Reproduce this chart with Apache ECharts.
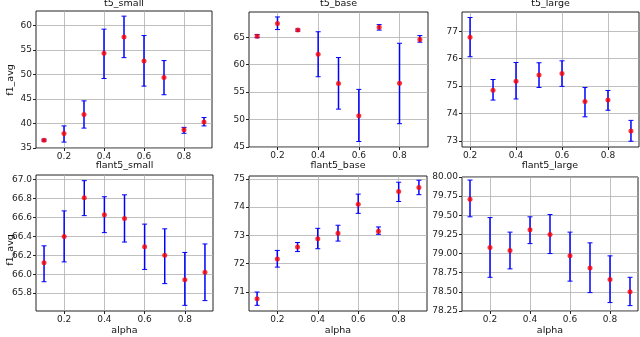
<!DOCTYPE html>
<html>
<head>
<meta charset="utf-8">
<script src="https://cdn.jsdelivr.net/npm/echarts@6/dist/echarts.min.js"></script>
<style>html,body{margin:0;padding:0;background:#fff}#c{width:640px;height:337px}</style>
</head>
<body>
<div id="c"></div>
<script>
// ---- data ----
const alphas = [0.1, 0.2, 0.3, 0.4, 0.5, 0.6, 0.7, 0.8, 0.9];
const alphasLarge = [0.2, 0.3, 0.4, 0.5, 0.6, 0.7, 0.8, 0.9];

const t5SmallMean = [36.6, 37.95, 41.8, 54.3, 57.6, 52.7, 49.35, 38.7, 40.3];
const t5SmallLo   = [36.4, 36.2, 39.05, 49.15, 53.4, 47.6, 45.85, 38.0, 39.5];
const t5SmallHi   = [36.8, 39.5, 44.6, 59.2, 61.85, 57.9, 52.8, 39.2, 41.2];

const t5BaseMean = [65.2, 67.5, 66.3, 61.9, 56.55, 50.7, 66.8, 56.6, 64.6];
const t5BaseLo   = [64.9, 66.4, 66.1, 57.8, 51.9, 46.0, 66.3, 49.25, 64.1];
const t5BaseHi   = [65.5, 68.7, 66.5, 66.0, 61.3, 55.5, 67.3, 63.9, 65.3];

const t5LargeMean = [76.78, 74.85, 75.18, 75.4, 75.46, 74.44, 74.49, 73.36];
const t5LargeLo   = [76.07, 74.49, 74.53, 74.95, 74.99, 73.88, 74.12, 72.99];
const t5LargeHi   = [77.5, 75.24, 75.86, 75.85, 75.92, 74.95, 74.84, 73.75];

const flSmallMean = [66.12, 66.40, 66.81, 66.63, 66.59, 66.29, 66.20, 65.94, 66.02];
const flSmallLo   = [65.92, 66.13, 66.62, 66.44, 66.34, 66.05, 65.90, 65.67, 65.72];
const flSmallHi   = [66.30, 66.67, 66.99, 66.82, 66.84, 66.53, 66.48, 66.23, 66.32];

const flBaseMean = [70.76, 72.17, 72.59, 72.88, 73.08, 74.10, 73.15, 74.55, 74.69];
const flBaseLo   = [70.53, 71.88, 72.43, 72.53, 72.80, 73.78, 73.04, 74.20, 74.44];
const flBaseHi   = [71.00, 72.47, 72.75, 73.25, 73.36, 74.46, 73.30, 74.88, 74.95];

const flLargeMean = [79.71, 79.08, 79.04, 79.31, 79.25, 78.97, 78.81, 78.66, 78.50];
const flLargeLo   = [79.48, 78.69, 78.80, 79.13, 79.00, 78.64, 78.49, 78.36, 78.32];
const flLargeHi   = [79.96, 79.47, 79.28, 79.48, 79.51, 79.28, 79.14, 78.97, 78.69];

const xTicks = [0.2, 0.4, 0.6, 0.8];
const yTicksT5Small = [35, 40, 45, 50, 55, 60];
const yTicksT5Base = [45, 50, 55, 60, 65];
const yTicksT5Large = [73, 74, 75, 76, 77];
const yTicksFlSmall = [65.8, 66.0, 66.2, 66.4, 66.6, 66.8, 67.0];
const yTicksFlBase = [71, 72, 73, 74, 75];
const yTicksFlLarge = [78.25, 78.5, 78.75, 79.0, 79.25, 79.5, 79.75, 80.0];

const titles = ['t5_small', 't5_base', 't5_large', 'flant5_small', 'flant5_base', 'flant5_large'];

// ---- panels ----
const FONT = 'DejaVu Sans';
const panels = [
  {x: alphas, m: t5SmallMean, lo: t5SmallLo, hi: t5SmallHi, yt: yTicksT5Small, ymin: 35, ymax: 62.9, xmin: 0.06, xmax: 0.94, dec: 0,
   grid: {left: 36, top: 11, width: 176, height: 137}},
  {x: alphas, m: t5BaseMean, lo: t5BaseLo, hi: t5BaseHi, yt: yTicksT5Base, ymin: 45, ymax: 69.6, xmin: 0.06, xmax: 0.94, dec: 0,
   grid: {left: 249, top: 12, width: 179, height: 135}},
  {x: alphasLarge, m: t5LargeMean, lo: t5LargeLo, hi: t5LargeHi, yt: yTicksT5Large, ymin: 72.78, ymax: 77.7, xmin: 0.165, xmax: 0.935, dec: 0,
   grid: {left: 462, top: 12, width: 177, height: 135}},
  {x: alphas, m: flSmallMean, lo: flSmallLo, hi: flSmallHi, yt: yTicksFlSmall, ymin: 65.61, ymax: 67.05, xmin: 0.06, xmax: 0.94, dec: 1,
   grid: {left: 36, top: 175, width: 177, height: 136}},
  {x: alphas, m: flBaseMean, lo: flBaseLo, hi: flBaseHi, yt: yTicksFlBase, ymin: 70.33, ymax: 75.1, xmin: 0.06, xmax: 0.94, dec: 0,
   grid: {left: 249, top: 176, width: 178, height: 135}},
  {x: alphas, m: flLargeMean, lo: flLargeLo, hi: flLargeHi, yt: yTicksFlLarge, ymin: 78.25, ymax: 80.0, xmin: 0.06, xmax: 0.94, dec: 2,
   grid: {left: 462, top: 177, width: 176, height: 134}}
];

const grids = [], xAxes = [], yAxes = [], series = [], graphics = [];
const gridLine = {show: true, lineStyle: {color: '#b0b0b0', width: 0.8}};
const LABEL_FONT = '9.5px ' + FONT;

panels.forEach((p, i) => {
  grids.push(Object.assign({show: true, borderColor: '#222', borderWidth: 1, backgroundColor: '#fff'}, p.grid));
  xAxes.push({
    type: 'value', gridIndex: i, min: p.xmin, max: p.xmax,
    axisLine: {show: false},
    axisTick: {show: true, length: 3, lineStyle: {color: '#222'}, customValues: xTicks},
    axisLabel: {customValues: xTicks, margin: 4, fontSize: 9, color: '#222', fontFamily: FONT,
      formatter: v => v.toFixed(1)},
    splitLine: gridLine
  });
  yAxes.push({
    type: 'value', gridIndex: i, min: p.ymin, max: p.ymax,
    axisLine: {show: false},
    axisTick: {show: true, length: 3, lineStyle: {color: '#222'}, customValues: p.yt},
    axisLabel: {customValues: p.yt, margin: 4, fontSize: 9, color: '#222', fontFamily: FONT,
      formatter: v => v.toFixed(p.dec)},
    splitLine: gridLine
  });
  series.push({
    type: 'custom', xAxisIndex: i, yAxisIndex: i,
    data: p.x.map((a, k) => [a, p.lo[k], p.hi[k]]),
    encode: {x: 0, y: [1, 2]},
    renderItem: (params, api) => {
      const x = api.value(0);
      const a = api.coord([x, api.value(1)]);
      const b = api.coord([x, api.value(2)]);
      const c = 2.5;
      const st = {stroke: '#0000ff', lineWidth: 1.5};
      return {type: 'group', children: [
        {type: 'line', shape: {x1: a[0], y1: a[1], x2: b[0], y2: b[1]}, style: st},
        {type: 'line', shape: {x1: a[0] - c, y1: a[1], x2: a[0] + c, y2: a[1]}, style: {stroke: '#0000ff', lineWidth: 1}},
        {type: 'line', shape: {x1: b[0] - c, y1: b[1], x2: b[0] + c, y2: b[1]}, style: {stroke: '#0000ff', lineWidth: 1}}
      ]};
    },
    z: 3
  });
  series.push({
    type: 'scatter', xAxisIndex: i, yAxisIndex: i,
    data: p.x.map((a, k) => [a, p.m[k]]),
    symbol: 'circle', symbolSize: 5,
    itemStyle: {color: '#ff0000'},
    z: 4
  });
  const cx = p.grid.left + p.grid.width / 2;
  const titleY = i < 3 ? 4 : 166;
  graphics.push({type: 'text', x: cx, y: titleY, z: 10,
    style: {text: titles[i], font: LABEL_FONT, fill: '#111', textAlign: 'center', textVerticalAlign: 'middle'}});
  if (i >= 3) {
    graphics.push({type: 'text', x: cx, y: 331, z: 10,
      style: {text: 'alpha', font: LABEL_FONT, fill: '#111', textAlign: 'center', textVerticalAlign: 'middle'}});
  }
});

graphics.push({type: 'text', x: 11, y: 80, rotation: Math.PI / 2, z: 10,
  style: {text: 'f1_avg', font: LABEL_FONT, fill: '#111', textAlign: 'center', textVerticalAlign: 'middle'}});
graphics.push({type: 'text', x: 11, y: 250, rotation: Math.PI / 2, z: 10,
  style: {text: 'f1_avg', font: LABEL_FONT, fill: '#111', textAlign: 'center', textVerticalAlign: 'middle'}});

const chart = echarts.init(document.getElementById('c'), null, {renderer: 'canvas'});
chart.setOption({
  animation: false,
  backgroundColor: '#fff',
  grid: grids, xAxis: xAxes, yAxis: yAxes, series: series,
  graphic: graphics
});
</script>
</body>
</html>
